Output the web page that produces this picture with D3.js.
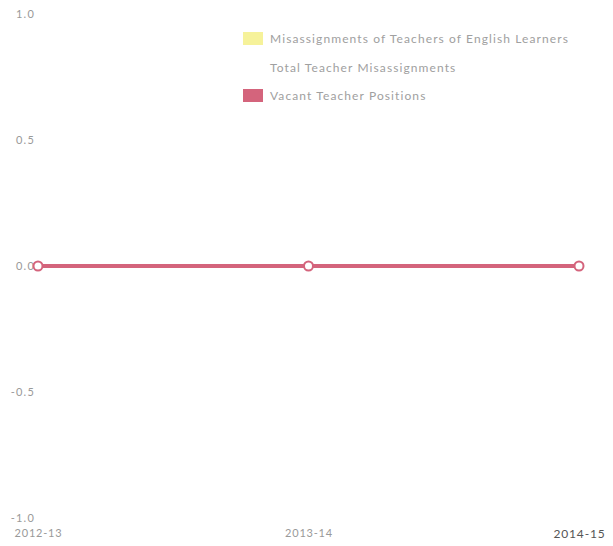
<!DOCTYPE html>
<html>
<head>
<meta charset="utf-8">
<script src="https://cdn.jsdelivr.net/npm/d3@7/dist/d3.min.js"></script>
<style>
  html, body { margin: 0; padding: 0; background: #fff; }
  svg { display: block; }
  text { font-family: Lato, "Open Sans", sans-serif; }
</style>
</head>
<body>
<svg id="chart" width="613" height="546"></svg>
<script>
// School years on the x axis
const years = ["2012-13", "2013-14", "2014-15"];

// Series values per year
const elMisassignments = [0, 0, 0];
const totalMisassignments = [0, 0, 0];
const vacantPositions = [0, 0, 0];

// y-axis ticks
const yTicks = [-1.0, -0.5, 0.0, 0.5, 1.0];

const seriesNames = [
  "Misassignments of Teachers of English Learners",
  "Total Teacher Misassignments",
  "Vacant Teacher Positions"
];
const seriesColors = ["#f6f29a", "#ffffff", "#d4647c"];
const seriesData = [elMisassignments, totalMisassignments, vacantPositions];

const svg = d3.select("#chart");

const x = d3.scalePoint().domain(years).range([38, 579]);
const y = d3.scaleLinear().domain([-1, 1]).range([518, 14]);

const fmt = d => d.toFixed(1);

// y tick labels
const yAxis = d3.axisLeft(y).tickValues(yTicks).tickFormat(fmt).tickSize(0).tickPadding(0);
const gy = svg.append("g").attr("transform", "translate(35,0)").call(yAxis);
gy.select(".domain").remove();
gy.selectAll("text").attr("font-size", 11).style("font-family", "Lato, sans-serif")
  .style("letter-spacing", "1.2px").style("fill", "#999");

// x tick labels
const xAxis = d3.axisBottom(x).tickSize(0).tickPadding(0);
const gx = svg.append("g").attr("transform", "translate(0,529)").call(xAxis);
gx.select(".domain").remove();
gx.selectAll("text").attr("font-size", 11).style("font-family", "Lato, sans-serif")
  .style("letter-spacing", "0.8px").style("fill", "#999");
gx.selectAll(".tick").filter(d => d === "2014-15").select("text")
  .style("fill", "#555").attr("font-size", 12);

// lines and markers
const line = d3.line().x((d, i) => x(years[i])).y(d => y(d));
seriesData.forEach((vals, s) => {
  if (s === 1) return;
  svg.append("path")
    .datum(vals)
    .attr("d", line)
    .attr("fill", "none")
    .attr("stroke", seriesColors[s])
    .attr("stroke-width", 4);
});
svg.append("g").selectAll("circle")
  .data(vacantPositions)
  .join("circle")
  .attr("cx", (d, i) => x(years[i]))
  .attr("cy", d => y(d))
  .attr("r", 4.5)
  .attr("fill", "#fff")
  .attr("stroke", seriesColors[2])
  .attr("stroke-width", 2);

// legend
const legend = svg.append("g").attr("transform", "translate(243,32)");
seriesNames.forEach((name, i) => {
  const g = legend.append("g").attr("transform", `translate(0,${i * 28.5})`);
  g.append("rect").attr("width", 20).attr("height", 13).attr("fill", seriesColors[i]);
  g.append("text").attr("x", 27).attr("y", 11)
    .attr("font-size", 12)
    .style("fill", "#a0a0a0")
    .style("letter-spacing", "1.1px")
    .text(name);
});
</script>
</body>
</html>
